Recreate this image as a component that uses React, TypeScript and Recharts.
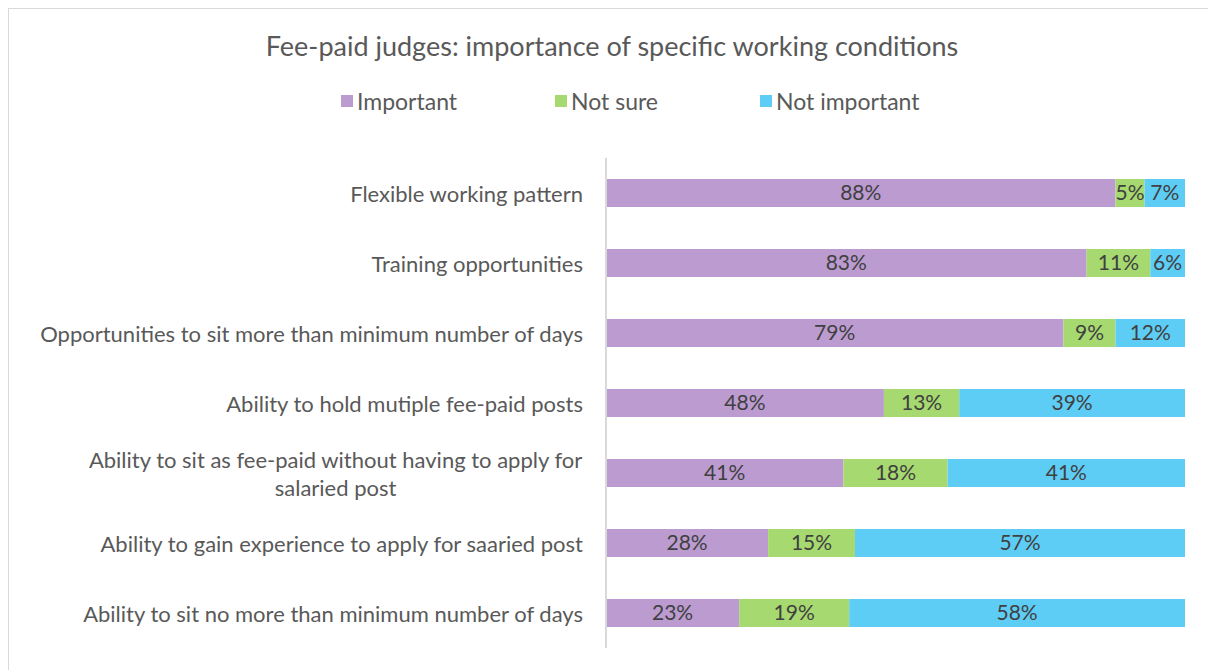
import * as React from "react"
import { BarChart, Bar, XAxis, YAxis, LabelList } from "recharts"

const categories = [
  "Flexible working pattern",
  "Training opportunities",
  "Opportunities to sit more than minimum number of days",
  "Ability to hold mutiple fee-paid posts",
  "Ability to sit as fee-paid without having to apply for\nsalaried post",
  "Ability to gain experience to apply for saaried post",
  "Ability to sit no more than minimum number of days",
]
const important = [88, 83, 79, 48, 41, 28, 23]
const notSure = [5, 11, 9, 13, 18, 15, 19]
const notImportant = [7, 6, 12, 39, 41, 57, 58]

const seriesNames = ["Important", "Not sure", "Not important"]
const seriesColors = ["#BB9BD0", "#A6D96F", "#5ECDF5"]

const FONT = "Lato, 'Open Sans', sans-serif"
const TEXT = "#595959"
const LABEL = "#404040"
const TICK_SIZE = 22

let measureCtx: CanvasRenderingContext2D | null = null
function textWidth(s: string, size: number) {
  if (!measureCtx) measureCtx = document.createElement("canvas").getContext("2d")
  if (!measureCtx) return s.length * size * 0.5
  measureCtx.font = `${size}px Lato`
  return measureCtx.measureText(s).width
}

const CategoryTick = ({ x, y, payload }: any) => {
  const lines: string[] = String(payload.value).split("\n")
  if (lines.length === 1) {
    return (
      <text x={x} y={y} textAnchor="end" dominantBaseline="central" fill={TEXT} fontSize={TICK_SIZE} fontFamily={FONT}>
        {lines[0]}
      </text>
    )
  }
  const maxW = Math.max(...lines.map((l) => textWidth(l, TICK_SIZE)))
  const cx = x - maxW / 2
  const lh = 28
  const top = y - ((lines.length - 1) * lh) / 2
  return (
    <text textAnchor="middle" dominantBaseline="central" fill={TEXT} fontSize={TICK_SIZE} fontFamily={FONT}>
      {lines.map((l, i) => (
        <tspan key={i} x={cx} y={top + i * lh}>{l}</tspan>
      ))}
    </text>
  )
}

export default function App() {
  React.useEffect(() => {
    document.body.style.margin = "0"
  }, [])

  const data = categories.map((name, i) => ({
    name,
    important: important[i],
    notSure: notSure[i],
    notImportant: notImportant[i],
  }))
  const keys = ["important", "notSure", "notImportant"]
  const legendWidths = [214, 205, 170]

  return (
    <div style={{ position: "relative", width: 1208, height: 670, overflow: "hidden", background: "#fff" }}>
      <div
        style={{
          position: "absolute",
          left: 8,
          top: 8,
          width: 1220,
          height: 680,
          borderLeft: "1px solid #d9d9d9",
          borderTop: "1px solid #d9d9d9",
        }}
      />
      <div
        style={{
          position: "absolute",
          left: 0,
          top: 29,
          width: 1224,
          textAlign: "center",
          fontFamily: FONT,
          fontSize: 27,
          color: TEXT,
        }}
      >
        Fee-paid judges: importance of specific working conditions
      </div>
      <div
        style={{
          position: "absolute",
          top: 87,
          left: 341,
          display: "flex",
          fontFamily: FONT,
          fontSize: 23,
          color: TEXT,
        }}
      >
        {seriesNames.map((n, i) => (
          <div key={n} style={{ width: legendWidths[i], display: "flex", alignItems: "center" }}>
            <span style={{ width: 12, height: 12, background: seriesColors[i], marginRight: 4, display: "inline-block" }} />
            <span>{n}</span>
          </div>
        ))}
      </div>
      <div style={{ position: "absolute", left: 0, top: 0 }}>
        <BarChart
          width={1208}
          height={670}
          data={data}
          layout="vertical"
          barSize={28}
          margin={{ top: 158, right: 23, bottom: 22, left: 0 }}
        >
          <XAxis type="number" domain={[0, 100]} hide />
          <YAxis
            type="category"
            dataKey="name"
            width={606}
            axisLine={{ stroke: "#d9d9d9", strokeWidth: 2 }}
            tickLine={false}
            tickMargin={17}
            tick={<CategoryTick />}
            interval={0}
          />
          {keys.map((k, i) => (
            <Bar key={k} dataKey={k} name={seriesNames[i]} stackId="a" fill={seriesColors[i]} isAnimationActive={false}>
              <LabelList
                dataKey={k}
                position="center"
                formatter={(v: any) => `${v}%`}
                fill={LABEL}
                fontSize={21}
                fontFamily={FONT}
              />
            </Bar>
          ))}
        </BarChart>
      </div>
    </div>
  )
}
